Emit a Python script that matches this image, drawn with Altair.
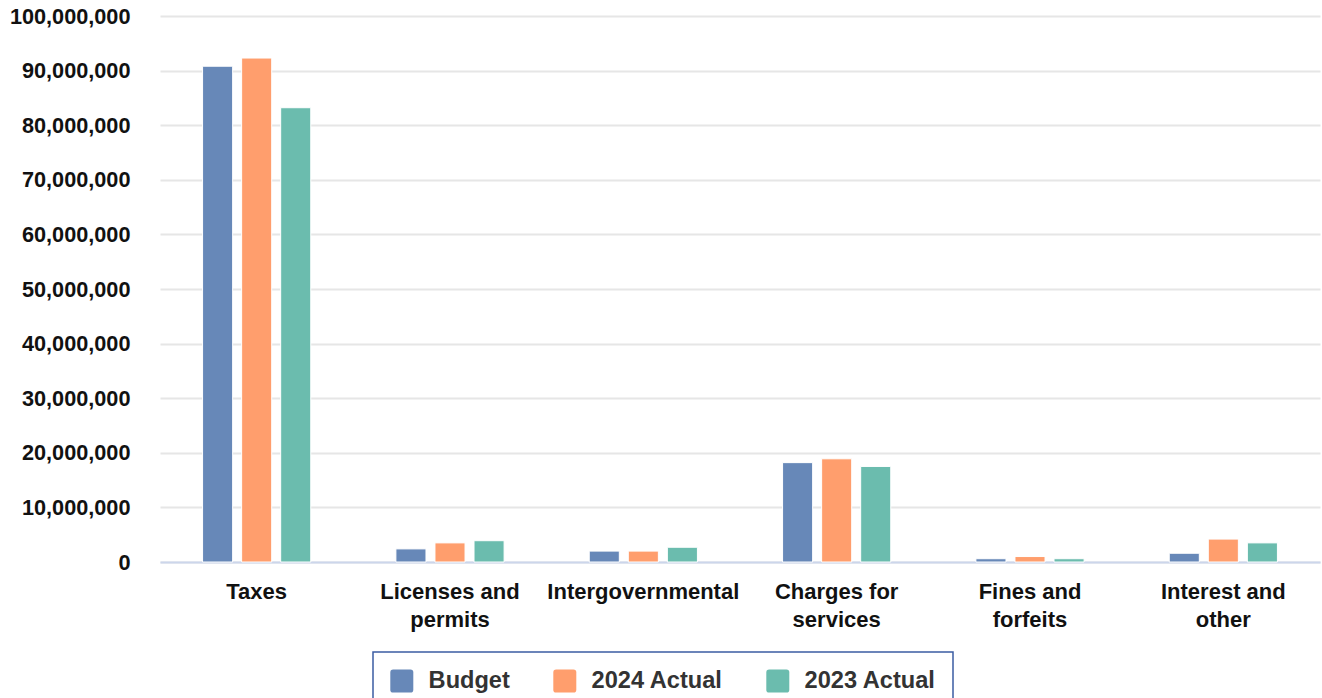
import altair as alt
import pandas as pd

categories = ["Taxes", "Licenses and permits", "Intergovernmental",
              "Charges for services", "Fines and forfeits", "Interest and other"]
wrapped = {
    "Licenses and permits": ["Licenses and", "permits"],
    "Charges for services": ["Charges for", "services"],
    "Fines and forfeits": ["Fines and", "forfeits"],
    "Interest and other": ["Interest and", "other"],
}
series = ["Budget", "2024 Actual", "2023 Actual"]
budget = [90_800_000, 2_400_000, 2_000_000, 18_200_000, 600_000, 1_600_000]
actual_2024 = [92_300_000, 3_500_000, 2_000_000, 18_900_000, 1_000_000, 4_200_000]
actual_2023 = [83_200_000, 3_900_000, 2_700_000, 17_500_000, 600_000, 3_500_000]
colors = ["#6788b8", "#ff9e6d", "#6bbcae"]
y_ticks = list(range(0, 100_000_001, 10_000_000))

rows = []
for name, vals in zip(series, [budget, actual_2024, actual_2023]):
    for c, v in zip(categories, vals):
        rows.append({"Category": c, "Series": name, "Value": v})
df = pd.DataFrame(rows)

label_expr = ""
for k, parts in wrapped.items():
    label_expr += f"datum.label == '{k}' ? ['{parts[0]}', '{parts[1]}'] : "
label_expr += "datum.label"

rounded = ("M-0.75,-1 L0.75,-1 Q1,-1 1,-0.75 L1,0.75 Q1,1 0.75,1 L-0.75,1 "
           "Q-1,1 -1,0.75 L-1,-0.75 Q-1,-1 -0.75,-1 Z")

FONT = "Liberation Sans"

chart = alt.Chart(df).mark_bar(stroke="white", strokeWidth=1).encode(
    x=alt.X("Category:N", sort=categories, title=None,
            scale=alt.Scale(paddingInner=0.4, paddingOuter=0.2),
            axis=alt.Axis(labelAngle=0, labelExpr=label_expr, ticks=False,
                          domainColor="#ccd6eb", domainWidth=2,
                          labelFont=FONT, labelFontWeight="bold", labelFontSize=22,
                          labelColor="#111111", labelPadding=29, labelLineHeight=28,
                          labelBaseline="middle", labelLimit=400, grid=False)),
    xOffset=alt.XOffset("Series:N", sort=series,
                        scale=alt.Scale(paddingInner=0.23, paddingOuter=0.1)),
    y=alt.Y("Value:Q", title=None,
            scale=alt.Scale(domain=[0, 100_000_000], nice=False),
            axis=alt.Axis(values=y_ticks, format=",d", ticks=False, domain=False,
                          gridColor="#e6e6e6", gridWidth=2,
                          labelFont=FONT, labelFontWeight="bold", labelFontSize=21.7,
                          labelColor="#111111", labelPadding=30)),
    color=alt.Color("Series:N", sort=series,
                    scale=alt.Scale(domain=series, range=colors),
                    legend=alt.Legend(title=None, orient="none", direction="horizontal",
                                      legendX=213, legendY=636,
                                      strokeColor="#3b5ca3",
                                      padding=17, columnPadding=43,
                                      symbolType=rounded, symbolSize=529,
                                      symbolStrokeWidth=0, symbolOpacity=1,
                                      labelFont=FONT, labelFontWeight="bold",
                                      labelFontSize=23.6, labelColor="#333333",
                                      labelOffset=15, labelLimit=300)),
).properties(
    width=1160, height=546,
    autosize=alt.AutoSizeParams(type="none"),
    padding={"left": 160, "top": 16, "right": 2, "bottom": 136},
).configure_view(stroke=None).configure_legend(strokeWidth=1.5)

chart.save("out.html", embed_options={"renderer": "svg", "actions": False})
